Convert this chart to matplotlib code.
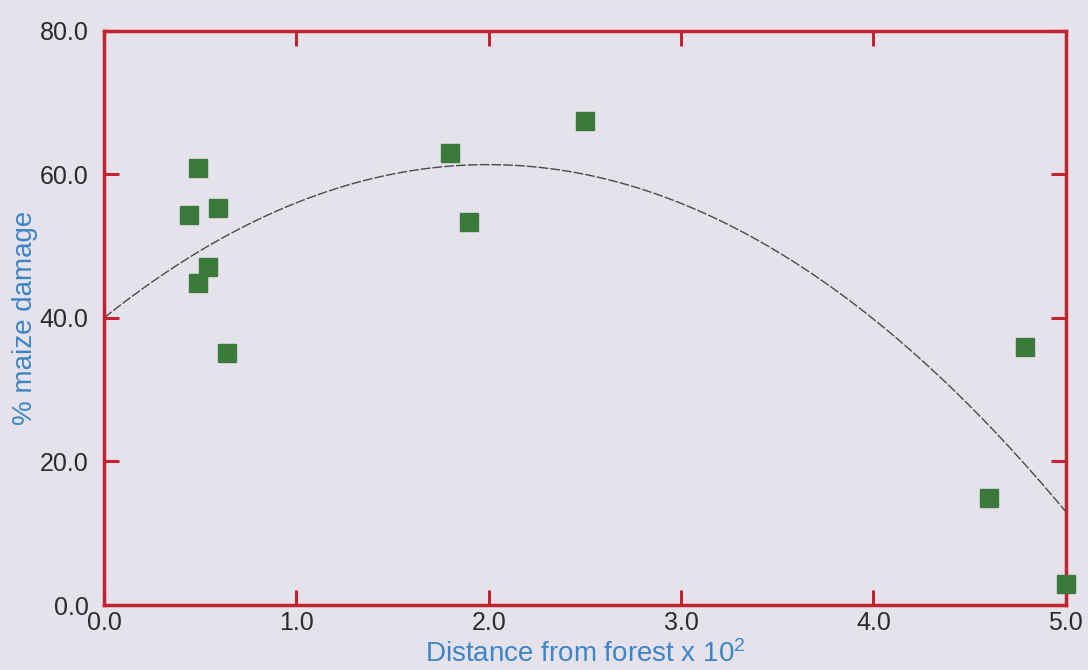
import numpy as np
import matplotlib
matplotlib.use("Agg")
import matplotlib.pyplot as plt

# distance from forest (x 10^2 m) and % maize damage
distance = [0.44, 0.49, 0.59, 0.54, 0.49, 0.64, 1.80, 1.90, 2.50, 4.79, 4.60, 5.00]
damage = [54.3, 60.9, 55.3, 47.1, 44.8, 35.1, 63.0, 53.3, 67.4, 35.9, 14.9, 2.9]

# quadratic trend line coefficients (c0 + c1*x + c2*x^2)
trend_coef = [40.0, 21.4, -5.36]

xticks = [0, 1, 2, 3, 4, 5]
yticks = [0, 20, 40, 60, 80]

plt.rcParams['font.family'] = ['Liberation Sans', 'DejaVu Sans']
plt.rcParams['mathtext.fontset'] = 'custom'
plt.rcParams['mathtext.rm'] = 'Liberation Sans'
plt.rcParams['mathtext.it'] = 'Liberation Sans'

bg = '#E5E2EC'
frame = '#C2232F'

fig = plt.figure(figsize=(10.88, 6.70), dpi=100, facecolor=bg)
ax = fig.add_axes([0.0956, 0.097, 0.884, 0.857], facecolor=bg)

xs = np.linspace(0, 5, 200)
ax.plot(xs, np.polyval(trend_coef[::-1], xs), color='#4a4a4a', lw=1.0,
        linestyle=(0, (7, 1.5)), zorder=2)
ax.plot(distance, damage, 's', color='#3B7A3B', markersize=13, zorder=3,
        clip_on=False)

ax.set_xlim(0, 5)
ax.set_ylim(0, 80)
ax.set_xticks(xticks)
ax.set_yticks(yticks)
ax.set_xticklabels([f"{v:.1f}" for v in xticks])
ax.set_yticklabels([f"{v:.1f}" for v in yticks])

for s in ax.spines.values():
    s.set_color(frame)
    s.set_linewidth(2.5)

ax.tick_params(direction='in', length=11, width=2.2, color=frame,
               top=True, right=True, labelsize=18, labelcolor='#2b2b2b')
ax.tick_params(axis='x', pad=4)
ax.tick_params(axis='y', pad=11)

ax.set_xlabel('Distance from forest x 10$^2$', fontsize=20, color='#3D85C6',
              labelpad=4)
ax.set_ylabel('% maize damage', fontsize=20, color='#3D85C6', labelpad=1)

fig.savefig('out.png', dpi=100, facecolor=bg)
